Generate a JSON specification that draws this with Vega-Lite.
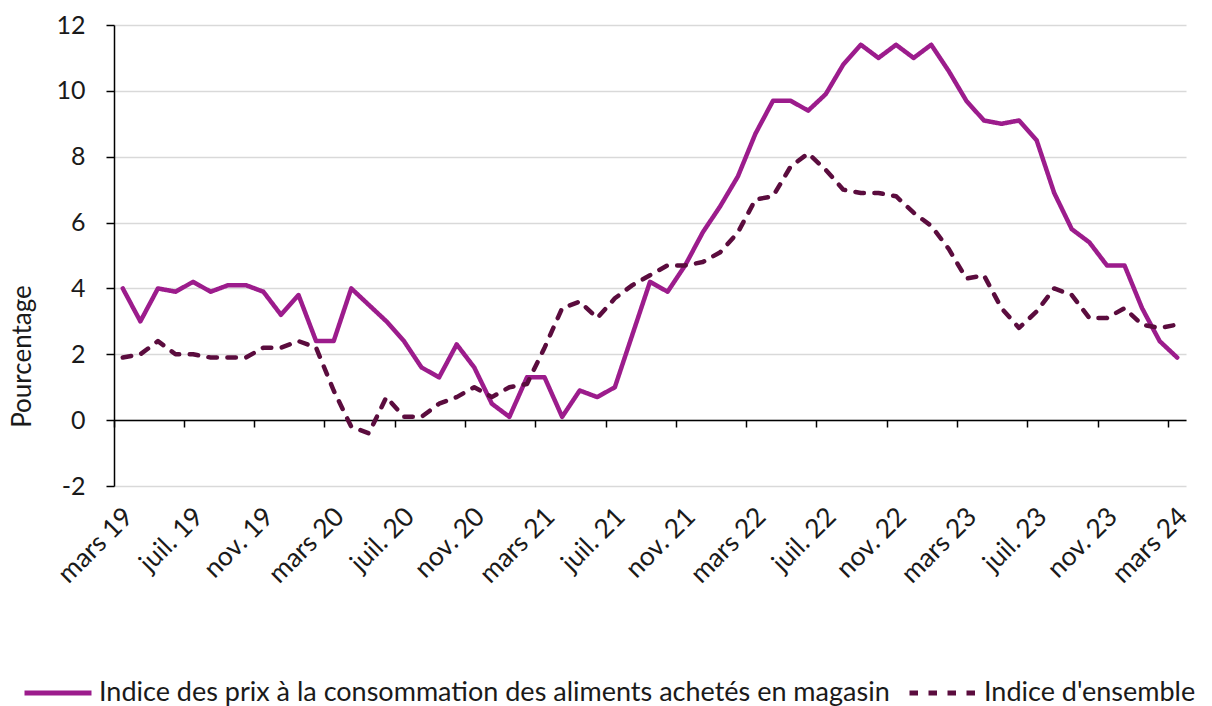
{
  "$schema": "https://vega.github.io/schema/vega-lite/v6.json",
  "width": 1072,
  "height": 461,
  "autosize": {"type": "none"},
  "padding": {"left": 114, "top": 25, "right": 26, "bottom": 220},
  "background": "white",
  "config": {
    "view": {"stroke": null},
    "font": "Lato",
    "axis": {"labelColor": "#1a1a1a", "titleColor": "#1a1a1a", "labelFont": "Lato", "titleFont": "Lato", "titleFontWeight": "normal"},
    "legend": {"labelFont": "Lato", "labelColor": "#1a1a1a"}
  },
  "data": {
    "values": [
      {"mois": "mars 19", "aliments": 4.0, "ensemble": 1.9},
      {"mois": "avr. 19", "aliments": 3.0, "ensemble": 2.0},
      {"mois": "mai 19", "aliments": 4.0, "ensemble": 2.4},
      {"mois": "juin 19", "aliments": 3.9, "ensemble": 2.0},
      {"mois": "juil. 19", "aliments": 4.2, "ensemble": 2.0},
      {"mois": "août 19", "aliments": 3.9, "ensemble": 1.9},
      {"mois": "sept. 19", "aliments": 4.1, "ensemble": 1.9},
      {"mois": "oct. 19", "aliments": 4.1, "ensemble": 1.9},
      {"mois": "nov. 19", "aliments": 3.9, "ensemble": 2.2},
      {"mois": "déc. 19", "aliments": 3.2, "ensemble": 2.2},
      {"mois": "janv. 20", "aliments": 3.8, "ensemble": 2.4},
      {"mois": "févr. 20", "aliments": 2.4, "ensemble": 2.2},
      {"mois": "mars 20", "aliments": 2.4, "ensemble": 0.9},
      {"mois": "avr. 20", "aliments": 4.0, "ensemble": -0.2},
      {"mois": "mai 20", "aliments": 3.5, "ensemble": -0.4},
      {"mois": "juin 20", "aliments": 3.0, "ensemble": 0.7},
      {"mois": "juil. 20", "aliments": 2.4, "ensemble": 0.1},
      {"mois": "août 20", "aliments": 1.6, "ensemble": 0.1},
      {"mois": "sept. 20", "aliments": 1.3, "ensemble": 0.5},
      {"mois": "oct. 20", "aliments": 2.3, "ensemble": 0.7},
      {"mois": "nov. 20", "aliments": 1.6, "ensemble": 1.0},
      {"mois": "déc. 20", "aliments": 0.5, "ensemble": 0.7},
      {"mois": "janv. 21", "aliments": 0.1, "ensemble": 1.0},
      {"mois": "févr. 21", "aliments": 1.3, "ensemble": 1.1},
      {"mois": "mars 21", "aliments": 1.3, "ensemble": 2.2},
      {"mois": "avr. 21", "aliments": 0.1, "ensemble": 3.4},
      {"mois": "mai 21", "aliments": 0.9, "ensemble": 3.6},
      {"mois": "juin 21", "aliments": 0.7, "ensemble": 3.1},
      {"mois": "juil. 21", "aliments": 1.0, "ensemble": 3.7},
      {"mois": "août 21", "aliments": 2.6, "ensemble": 4.1},
      {"mois": "sept. 21", "aliments": 4.2, "ensemble": 4.4},
      {"mois": "oct. 21", "aliments": 3.9, "ensemble": 4.7},
      {"mois": "nov. 21", "aliments": 4.7, "ensemble": 4.7},
      {"mois": "déc. 21", "aliments": 5.7, "ensemble": 4.8},
      {"mois": "janv. 22", "aliments": 6.5, "ensemble": 5.1},
      {"mois": "févr. 22", "aliments": 7.4, "ensemble": 5.7},
      {"mois": "mars 22", "aliments": 8.7, "ensemble": 6.7},
      {"mois": "avr. 22", "aliments": 9.7, "ensemble": 6.8},
      {"mois": "mai 22", "aliments": 9.7, "ensemble": 7.7},
      {"mois": "juin 22", "aliments": 9.4, "ensemble": 8.1},
      {"mois": "juil. 22", "aliments": 9.9, "ensemble": 7.6},
      {"mois": "août 22", "aliments": 10.8, "ensemble": 7.0},
      {"mois": "sept. 22", "aliments": 11.4, "ensemble": 6.9},
      {"mois": "oct. 22", "aliments": 11.0, "ensemble": 6.9},
      {"mois": "nov. 22", "aliments": 11.4, "ensemble": 6.8},
      {"mois": "déc. 22", "aliments": 11.0, "ensemble": 6.3},
      {"mois": "janv. 23", "aliments": 11.4, "ensemble": 5.9},
      {"mois": "févr. 23", "aliments": 10.6, "ensemble": 5.2},
      {"mois": "mars 23", "aliments": 9.7, "ensemble": 4.3},
      {"mois": "avr. 23", "aliments": 9.1, "ensemble": 4.4},
      {"mois": "mai 23", "aliments": 9.0, "ensemble": 3.4},
      {"mois": "juin 23", "aliments": 9.1, "ensemble": 2.8},
      {"mois": "juil. 23", "aliments": 8.5, "ensemble": 3.3},
      {"mois": "août 23", "aliments": 6.9, "ensemble": 4.0},
      {"mois": "sept. 23", "aliments": 5.8, "ensemble": 3.8},
      {"mois": "oct. 23", "aliments": 5.4, "ensemble": 3.1},
      {"mois": "nov. 23", "aliments": 4.7, "ensemble": 3.1},
      {"mois": "déc. 23", "aliments": 4.7, "ensemble": 3.4},
      {"mois": "janv. 24", "aliments": 3.4, "ensemble": 2.9},
      {"mois": "févr. 24", "aliments": 2.4, "ensemble": 2.8},
      {"mois": "mars 24", "aliments": 1.9, "ensemble": 2.9}
    ]
  },
  "transform": [{"fold": ["aliments", "ensemble"], "as": ["serie", "valeur"]}],
  "mark": {"type": "line", "strokeWidth": 4.5, "strokeCap": "round", "strokeJoin": "round"},
  "encoding": {
    "x": {
      "field": "mois",
      "type": "ordinal",
      "sort": null,
      "scale": {"type": "band", "paddingInner": 0, "paddingOuter": 0},
      "axis": {
        "values": ["mars 19", "juil. 19", "nov. 19", "mars 20", "juil. 20", "nov. 20", "mars 21", "juil. 21", "nov. 21", "mars 22", "juil. 22", "nov. 22", "mars 23", "juil. 23", "nov. 23", "mars 24"],
        "title": null,
        "labelAngle": -45,
        "labelAlign": "right",
        "labelBaseline": "top",
        "bandPosition": 0,
        "labelOffset": -3,
        "offset": -66,
        "labelPadding": 76,
        "domainColor": "black",
        "domainWidth": 1.5,
        "tickColor": "black",
        "tickWidth": 1.5,
        "tickSize": 7,
        "grid": false,
        "labelFontSize": 26.5,
        "labelOverlap": false
      }
    },
    "y": {
      "field": "valeur",
      "type": "quantitative",
      "scale": {"domain": [-2, 12], "nice": false},
      "axis": {
        "values": [-2, 0, 2, 4, 6, 8, 10, 12],
        "labelExpr": "toString(datum.value)",
        "title": "Pourcentage",
        "gridColor": "#d9d9d9",
        "gridWidth": 1.5,
        "domainColor": "black",
        "domainWidth": 1.5,
        "tickColor": "black",
        "tickWidth": 1.5,
        "tickSize": 8,
        "labelPadding": 21,
        "labelFontSize": 25,
        "titleFontSize": 26,
        "titleX": -92,
        "titleY": 331,
        "titleAngle": -90,
        "titleAlign": "center",
        "titleBaseline": "middle"
      }
    },
    "color": {
      "field": "serie",
      "type": "nominal",
      "scale": {"domain": ["aliments", "ensemble"], "range": ["#9C1C8C", "#5B0C3E"]},
      "legend": {
        "title": null,
        "orient": "none",
        "direction": "horizontal",
        "legendX": -92,
        "legendY": 632,
        "symbolType": "stroke",
        "symbolSize": 4489,
        "symbolStrokeWidth": 5,
        "labelFontSize": 27,
        "labelLimit": 1000,
        "labelOffset": 5,
        "columnPadding": 9,
        "labelExpr": "datum.label == 'aliments' ? 'Indice des prix à la consommation des aliments achetés en magasin' : \"Indice d'ensemble\""
      }
    },
    "strokeDash": {
      "field": "serie",
      "type": "nominal",
      "scale": {"domain": ["aliments", "ensemble"], "range": [[1, 0], [8.5, 10.5]]},
      "legend": {
        "title": null,
        "orient": "none",
        "direction": "horizontal",
        "legendX": -92,
        "legendY": 632,
        "symbolType": "stroke",
        "symbolSize": 4489,
        "symbolStrokeWidth": 5,
        "labelFontSize": 27,
        "labelLimit": 1000,
        "labelOffset": 5,
        "columnPadding": 9,
        "labelExpr": "datum.label == 'aliments' ? 'Indice des prix à la consommation des aliments achetés en magasin' : \"Indice d'ensemble\""
      }
    }
  }
}
